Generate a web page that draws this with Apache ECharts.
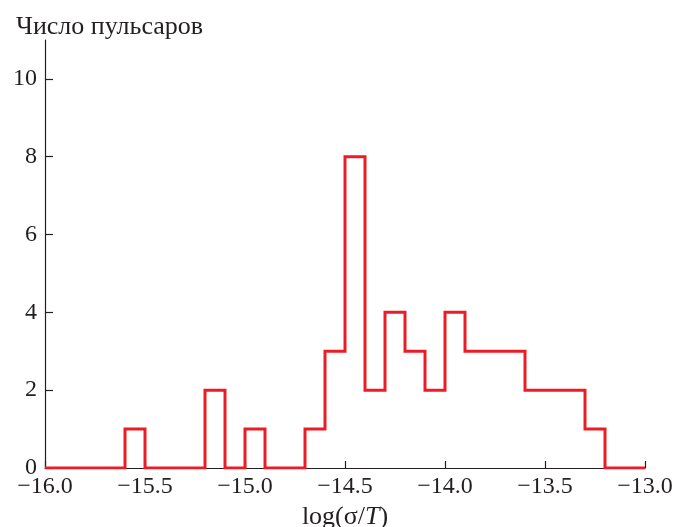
<!DOCTYPE html>
<html><head><meta charset="utf-8">
<script src="https://cdn.jsdelivr.net/npm/echarts@6/dist/echarts.min.js"></script>
<style>html,body{margin:0;padding:0;background:#fff}#c{width:676px;height:527px}</style>
</head><body><div id="c"></div>
<script>
// Bin left edges (width 0.1) and counts
const binEdges = [-16.0,-15.9,-15.8,-15.7,-15.6,-15.5,-15.4,-15.3,-15.2,-15.1,-15.0,-14.9,-14.8,-14.7,-14.6,-14.5,-14.4,-14.3,-14.2,-14.1,-14.0,-13.9,-13.8,-13.7,-13.6,-13.5,-13.4,-13.3,-13.2,-13.1];
const counts   = [0,0,0,0,1,0,0,0,2,0,1,0,0,1,3,8,2,4,3,2,4,3,3,3,2,2,2,1,0,0];
const lastEdge = -13.0;
const xTicks = [-16.0,-15.5,-15.0,-14.5,-14.0,-13.5,-13.0];
const yTicks = [0,2,4,6,8,10];

const data = binEdges.map((e,i)=>[e,counts[i]]);
data.push([lastEdge, counts[counts.length-1]]);

const font = '"Liberation Serif", "DejaVu Serif", serif';
const chart = echarts.init(document.getElementById('c'), null, {renderer:'canvas'});
chart.setOption({
  animation:false,
  backgroundColor:'#fff',
  grid:{left:45,right:31,top:40,bottom:59,containLabel:false,outerBoundsMode:'none'},
  title:{text:'Число пульсаров',left:11,top:9,textStyle:{fontFamily:font,fontSize:26,fontWeight:'normal',color:'#231f20'}},
  xAxis:{type:'value',min:-16,max:-13,interval:0.5,
    axisLine:{show:true,onZero:false,lineStyle:{color:'#231f20',width:1.2}},
    axisTick:{show:true,inside:true,length:7,lineStyle:{color:'#231f20',width:1.2},customValues:xTicks},
    axisLabel:{customValues:xTicks,fontFamily:font,fontSize:24,color:'#231f20',margin:7,
      formatter:v=>(v<0?'\u2212':'')+Math.abs(v).toFixed(1)},
    splitLine:{show:false},
    name:'log(σ/{i|T})',nameLocation:'middle',nameGap:33,
    nameTextStyle:{fontFamily:font,fontSize:26,color:'#231f20',rich:{i:{fontFamily:font,fontSize:26,fontStyle:'italic',color:'#231f20'}}}
  },
  yAxis:{type:'value',min:0,max:11,interval:2,
    axisLine:{show:true,lineStyle:{color:'#231f20',width:1.2}},
    axisTick:{show:true,inside:true,length:8,lineStyle:{color:'#231f20',width:1.2},customValues:yTicks},
    axisLabel:{customValues:yTicks,fontFamily:font,fontSize:24,color:'#231f20',margin:8},
    splitLine:{show:false}
  },
  series:[{type:'line',step:'end',data:data,symbol:'none',
    lineStyle:{color:'#ec1c24',width:3,join:'miter'},z:5}]
});
</script></body></html>
